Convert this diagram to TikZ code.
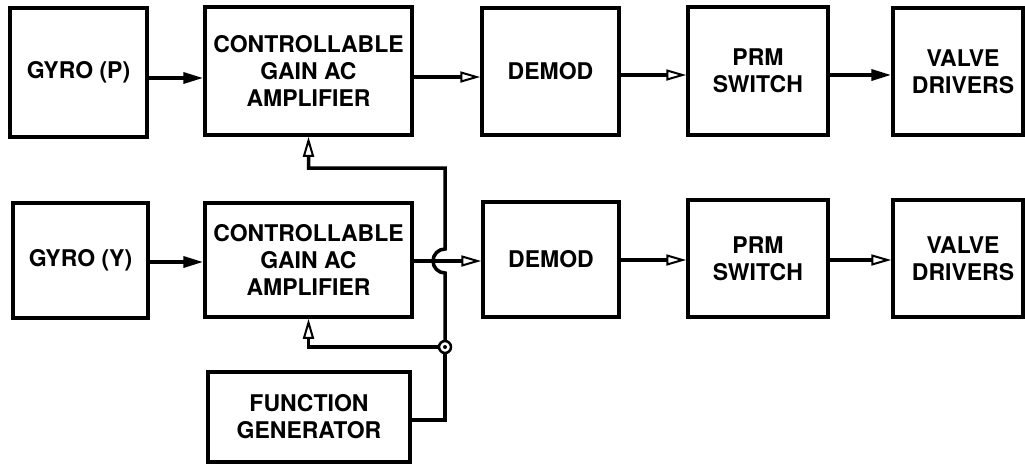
\documentclass[tikz,border=0pt]{standalone}
\usepackage{fontspec}
\setmainfont{TeX Gyre Heros}
\usetikzlibrary{arrows.meta}
\begin{document}
\begin{tikzpicture}[x=1pt,y=-1pt,
  blk/.style={draw, line width=3.5pt, rectangle, inner sep=0pt, align=center,
    font=\bfseries\fontsize{23}{27}\selectfont},
  wire/.style={line width=3.5pt},
  sol/.style={wire, -{Triangle[length=20pt,width=11pt]}},
  opn/.style={wire, -{Triangle[open,length=20pt,width=11pt,line width=2pt]}},
]
\useasboundingbox (0,0) rectangle (1025,466);
% row P
\node[blk, minimum width=137pt, minimum height=129pt] (gp) at (78.5,72.5) {GYRO (P)};
\node[blk, minimum width=207pt, minimum height=128pt] (ap) at (308.5,71) {CONTROLLABLE\\GAIN AC\\AMPLIFIER};
\node[blk, minimum width=137pt, minimum height=127pt] (dp) at (550.5,71.5) {DEMOD};
\node[blk, minimum width=140pt, minimum height=128pt] (sp) at (758,71) {PRM\\SWITCH};
\node[blk, minimum width=130pt, minimum height=127pt] (vp) at (958,71.5) {};
\node[font=\bfseries\fontsize{23}{27}\selectfont, align=center] (vpt) at (963,71.5) {VALVE\\DRIVERS};
% row Y
\node[blk, minimum width=135pt, minimum height=115pt] (gy) at (80.5,260.5) {GYRO (Y)};
\node[blk, minimum width=207pt, minimum height=114pt] (ay) at (308.5,260) {CONTROLLABLE\\GAIN AC\\AMPLIFIER};
\node[blk, minimum width=136pt, minimum height=115pt] (dy) at (551,259.5) {DEMOD};
\node[blk, minimum width=140pt, minimum height=117pt] (sy) at (758,258.5) {PRM\\SWITCH};
\node[blk, minimum width=130pt, minimum height=117pt] (vy) at (958,258.5) {};
\node[font=\bfseries\fontsize{23}{27}\selectfont, align=center] (vyt) at (963,258.5) {VALVE\\DRIVERS};
% function generator
\node[blk, minimum width=202pt, minimum height=90pt] (fg) at (309,417) {FUNCTION\\GENERATOR};
% row P connectors
\draw[sol] (gp.east |- 0,78) -- (ap.west |- 0,78);
\draw[opn] (ap.east |- 0,77) -- (dp.west |- 0,77);
\draw[opn] (dp.east |- 0,75) -- (sp.west |- 0,75);
\draw[sol] (sp.east |- 0,75) -- (vp.west |- 0,75);
% row Y connectors
\draw[sol] (gy.east |- 0,262) -- (ay.west |- 0,262);
\draw[opn] (ay.east |- 0,261) -- (dy.west |- 0,261);
\draw[opn] (dy.east |- 0,260) -- (sy.west |- 0,260);
\draw[opn] (sy.east |- 0,260) -- (vy.west |- 0,260);
% gain control
\coordinate (j) at (445,347);
\draw[wire] (fg.east |- 0,420) -| (j);
\draw[opn] (j) -| (ay.south);
\draw[opn] (j) -- (445,273) arc[start angle=90, end angle=270, radius=12] -- (445,168) -| (ap.south);
\draw[line width=2.5pt, fill=white] (j) circle[radius=6pt];
\fill (j) circle[radius=2pt];
\end{tikzpicture}
\end{document}
